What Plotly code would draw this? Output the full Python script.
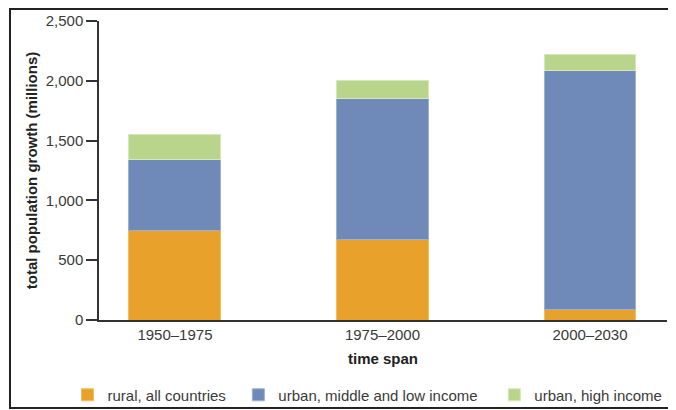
import plotly.graph_objects as go

periods = ["1950–1975", "1975–2000", "2000–2030"]
rural_all = [747, 672, 84]
urban_mid_low = [591, 1176, 2001]
urban_high = [212, 153, 136]

y_ticks = [0, 500, 1000, 1500, 2000, 2500]
y_tick_text = ["0", "500", "1,000", "1,500", "2,000", "2,500"]

font = "Liberation Sans, Arial, sans-serif"

fig = go.Figure()

fig.add_trace(
    go.Bar(
        x=periods,
        y=rural_all,
        name="rural, all countries\u2002",
        marker=dict(color="#E8A12A", line=dict(color="#F2C060", width=1)),
    )
)

fig.add_trace(
    go.Bar(
        x=periods,
        y=urban_mid_low,
        name="urban, middle and low income\u2002\u00a0",
        marker=dict(color="#6F89B9", line=dict(color="#9DB0D2", width=1)),
    )
)

fig.add_trace(
    go.Bar(
        x=periods,
        y=urban_high,
        name="urban, high income",
        marker=dict(color="#B9D58B", line=dict(color="#D6E8B6", width=1)),
    )
)

# the page adds an 8px body margin, so the figure is 8px smaller than the window
fig.update_layout(
    barmode="stack",
    bargap=0.557,
    width=668,
    height=402,
    margin=dict(l=91, r=9, t=13, b=90, autoexpand=False),
    paper_bgcolor="white",
    plot_bgcolor="white",
    font=dict(family=font, size=15, color="#3a3a3a"),
    showlegend=True,
    legend=dict(
        orientation="h",
        x=-0.0555,
        xanchor="left",
        y=-0.251,
        yanchor="middle",
        bgcolor="rgba(0,0,0,0)",
        font=dict(size=15, color="#3a3a3a"),
        itemwidth=30,
        traceorder="normal",
    ),
    shapes=[
        dict(
            type="rect",
            xref="paper",
            yref="paper",
            x0=-0.1567,
            x1=1.03,
            y0=-0.2943,
            y1=1.04,
            line=dict(color="#222222", width=2),
        )
    ],
)

fig.update_xaxes(
    range=[-0.366, 2.371],
    automargin=False,
    showline=True,
    linecolor="#333333",
    linewidth=1.5,
    ticks="",
    showgrid=False,
    tickfont=dict(size=15, color="#3a3a3a"),
    title=dict(
        text="<b>time span</b>",
        font=dict(size=15, color="#222222"),
        standoff=12,
    ),
)

fig.update_yaxes(
    range=[0, 2500],
    automargin=False,
    tickvals=y_ticks,
    ticktext=y_tick_text,
    showline=True,
    linecolor="#333333",
    linewidth=1.5,
    ticks="outside",
    ticklen=11,
    tickcolor="#333333",
    tickwidth=1.5,
    showgrid=False,
    zeroline=False,
    tickfont=dict(size=15, color="#3a3a3a"),
    title=dict(
        text="<b>total population growth (millions)</b>",
        font=dict(size=15, color="#222222"),
        standoff=4,
    ),
)

fig.write_html("out.html")
